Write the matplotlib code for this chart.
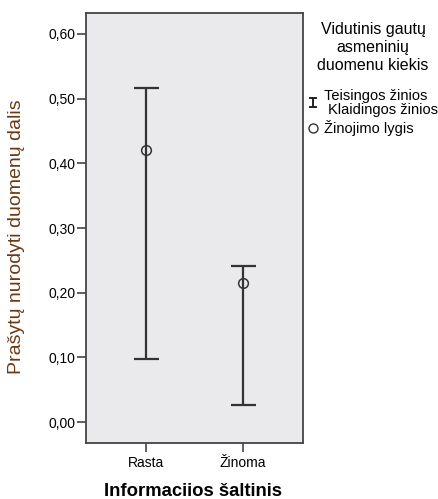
import numpy as np
import matplotlib
matplotlib.use('Agg')
import matplotlib.pyplot as plt
from matplotlib.lines import Line2D

categories = ['Rasta', 'Žinoma']
means = [0.420, 0.215]
upper = [0.516, 0.242]
lower = [0.097, 0.027]
yticks = [0.0, 0.1, 0.2, 0.3, 0.4, 0.5, 0.6]

plt.rcParams['font.family'] = ['Liberation Sans', 'DejaVu Sans']

fig = plt.figure(figsize=(4.38, 4.99), dpi=100)
ax = fig.add_axes([0.196, 0.112, 0.496, 0.862])
ax.set_facecolor('#eaeaec')

x = np.arange(len(categories))
m = np.array(means)
err = np.array([m - np.array(lower), np.array(upper) - m])
ax.errorbar(x, m, yerr=err, fmt='none', ecolor='#333333', elinewidth=1.6,
            capsize=9, capthick=1.6)
ax.plot(x, m, 'o', mfc='none', mec='#333333', ms=7, mew=1.1)

ax.set_xlim(-0.617, 1.62)
ax.set_ylim(-0.0325, 0.6325)
ax.set_xticks(x)
ax.set_xticklabels(categories, fontsize=10)
ax.set_yticks(yticks)
ax.set_yticklabels([('%.2f' % v).replace('.', ',') for v in yticks], fontsize=10)
ax.tick_params(axis='y', length=6.5, width=1.2, color='#444444', pad=1)
ax.tick_params(axis='x', length=6.5, width=1.2, color='#444444', pad=3)
for s in ax.spines.values():
    s.set_color('#444444')
    s.set_linewidth(1.3)

ax.set_ylabel('Prašytų nurodyti duomenų dalis', fontsize=14, color='#6b3a14')
ax.yaxis.set_label_coords(-0.28, 0.481)
ax.set_xlabel('Informaciios šaltinis', fontsize=13.3, fontweight='bold', va='baseline')
ax.xaxis.set_label_coords(0.495, -0.124)

# legend drawn as figure text
title_lines = ['Vidutinis gautų', 'asmeninių', 'duomenu kiekis']
for line, yy in zip(title_lines, [0.940, 0.904, 0.868]):
    fig.text(0.852, yy, line, ha='center', va='center', fontsize=11.5)
fig.text(0.740, 0.808, 'Teisingos žinios', fontsize=10.5, va='center')
fig.text(0.749, 0.779, 'Klaidingos žinios', fontsize=10.5, va='center')
fig.text(0.740, 0.744, 'Žinojimo lygis', fontsize=10.5, va='center')
ix, y0, y1 = 0.715, 0.785, 0.804
fig.add_artist(Line2D([ix, ix], [y0, y1], color='#222222', lw=1.4,
                      transform=fig.transFigure))
for yy in [y0, y1]:
    fig.add_artist(Line2D([ix - 0.007, ix + 0.007], [yy, yy], color='#222222', lw=1.4,
                          transform=fig.transFigure))
fig.add_artist(Line2D([ix], [0.744], marker='o', mfc='none', mec='#333333', ms=6.5,
                      mew=1.0, transform=fig.transFigure))

fig.savefig('out.png', dpi=100)
